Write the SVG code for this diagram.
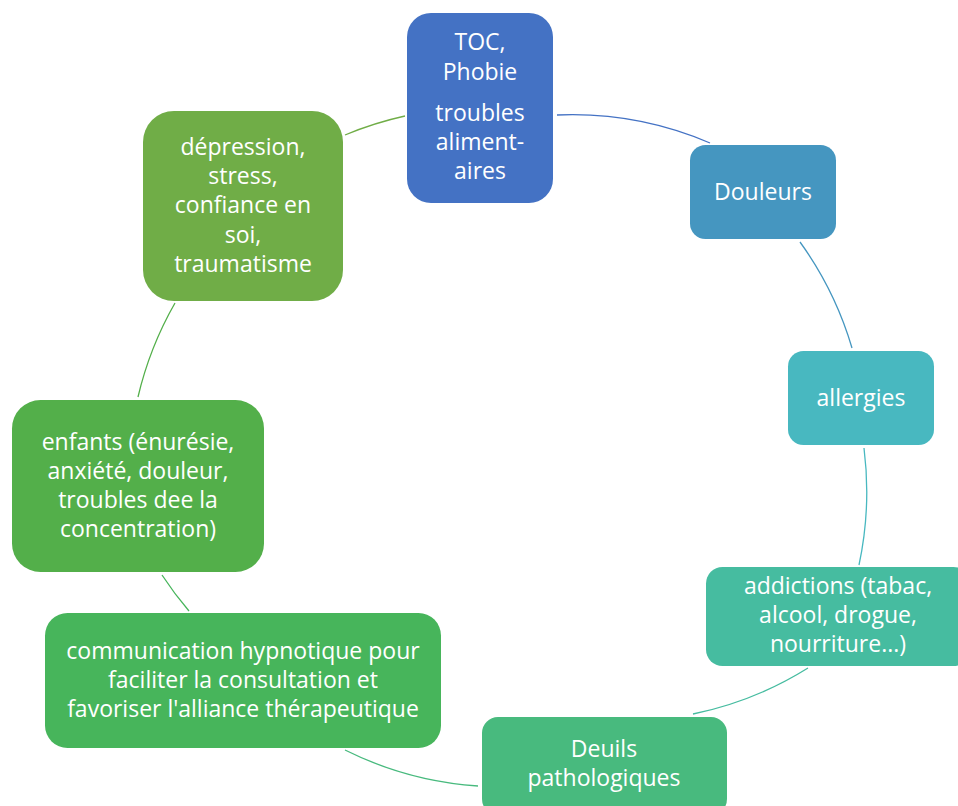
<svg xmlns="http://www.w3.org/2000/svg" width="958" height="806" viewBox="0 0 958 806">
<style>
  .lbl { font-family: "Open Sans", "Noto Sans", "Liberation Sans", sans-serif; font-size: 23px; fill: #ffffff; text-anchor: middle; }
  .arc { fill: none; stroke-width: 1.3; }
</style>
<rect x="0" y="0" width="958" height="806" fill="#ffffff"/>
<g id="connectors">
  <path class="arc" stroke="#4472C4" d="M557,115 A350,350 0 0 1 710,143"/>
  <path class="arc" stroke="#4596C0" d="M800,242 A350,350 0 0 1 852,348"/>
  <path class="arc" stroke="#48B8C0" d="M864,448 A350,350 0 0 1 859,565"/>
  <path class="arc" stroke="#46BCA0" d="M808,668 A350,350 0 0 1 693,714"/>
  <path class="arc" stroke="#48BA7E" d="M478,786 A350,350 0 0 1 345,750"/>
  <path class="arc" stroke="#47B55B" d="M189,611 A350,350 0 0 1 162,575"/>
  <path class="arc" stroke="#53AF4A" d="M138,397 A350,350 0 0 1 175,303"/>
  <path class="arc" stroke="#70AD47" d="M345,135 A350,350 0 0 1 405,116"/>
</g>
<g id="node-toc">
  <rect x="407" y="13" width="146" height="190" rx="24" fill="#4472C4"/>
  <text class="lbl" x="480" y="50">TOC,</text>
  <text class="lbl" x="480" y="80">Phobie</text>
  <text class="lbl" x="480" y="121">troubles</text>
  <text class="lbl" x="480" y="150">aliment-</text>
  <text class="lbl" x="480" y="179">aires</text>
</g>
<g id="node-douleurs">
  <rect x="690" y="145" width="146" height="94" rx="15.5" fill="#4596C0"/>
  <text class="lbl" x="763" y="200">Douleurs</text>
</g>
<g id="node-allergies">
  <rect x="788" y="351" width="146" height="94" rx="15.5" fill="#48B8C0"/>
  <text class="lbl" x="861" y="406">allergies</text>
</g>
<g id="node-addictions">
  <rect x="706" y="567" width="264" height="99" rx="16.5" fill="#46BCA0"/>
  <text class="lbl" x="838" y="594">addictions (tabac,</text>
  <text class="lbl" x="838" y="623">alcool, drogue,</text>
  <text class="lbl" x="838" y="652">nourriture...)</text>
</g>
<g id="node-deuils">
  <rect x="482" y="717" width="245" height="98" rx="16" fill="#48BA7E"/>
  <text class="lbl" x="604" y="757">Deuils</text>
  <text class="lbl" x="604" y="786">pathologiques</text>
</g>
<g id="node-communication">
  <rect x="45" y="613" width="396" height="135" rx="22.5" fill="#47B55B"/>
  <text class="lbl" x="243" y="659">communication hypnotique pour</text>
  <text class="lbl" x="243" y="688">faciliter la consultation et</text>
  <text class="lbl" x="243" y="717">favoriser l'alliance thérapeutique</text>
</g>
<g id="node-enfants">
  <rect x="12" y="400" width="252" height="172" rx="28.5" fill="#53AF4A"/>
  <text class="lbl" x="138" y="450">enfants (énurésie,</text>
  <text class="lbl" x="138" y="479">anxiété, douleur,</text>
  <text class="lbl" x="138" y="508">troubles dee la</text>
  <text class="lbl" x="138" y="537">concentration)</text>
</g>
<g id="node-depression">
  <rect x="143" y="111" width="200" height="190" rx="31" fill="#70AD47"/>
  <text class="lbl" x="243" y="155">dépression,</text>
  <text class="lbl" x="243" y="184">stress,</text>
  <text class="lbl" x="243" y="213">confiance en</text>
  <text class="lbl" x="243" y="243">soi,</text>
  <text class="lbl" x="243" y="272">traumatisme</text>
</g>
</svg>
